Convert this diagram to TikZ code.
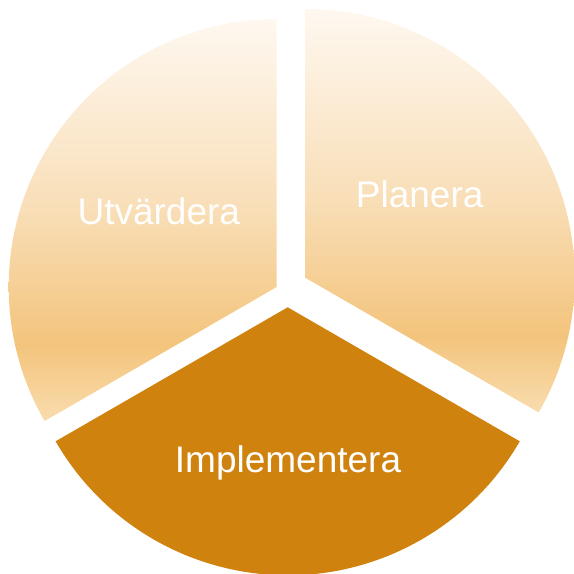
\documentclass[tikz,border=0pt]{standalone}
\usepackage{fontspec}
\setmainfont{Liberation Sans}
\definecolor{gT}{HTML}{FEF8F0}
\definecolor{gM}{HTML}{F9DFB9}
\definecolor{gD}{HTML}{F3C47C}
\definecolor{gB}{HTML}{F9DCAE}
\definecolor{darkseg}{HTML}{D0820F}
\pgfdeclareverticalshading{sectgrad}{100bp}{color(0bp)=(gB); color(25bp)=(gB); color(34.5bp)=(gD); color(52bp)=(gM); color(75bp)=(gT); color(100bp)=(gT)}
\tikzset{
  lbl/.style={inner sep=0pt, anchor=base, text=white, font=\fontsize{37}{44}\selectfont}
}
\begin{document}
\begin{tikzpicture}[x=1pt,y=1pt]
\useasboundingbox (0,0) rectangle (574,574);
% right sector (Planera)
\begin{scope}
\clip (305.7,296) -- ++(90:269) arc[start angle=90, end angle=-30, radius=269] -- cycle;
\shade[shading=sectgrad] (300,162) rectangle (580,565);
\end{scope}
% left sector (Utvardera)
\begin{scope}
\clip (276.7,287) -- ++(90:268) arc[start angle=90, end angle=210, radius=268] -- cycle;
\shade[shading=sectgrad] (0,153) rectangle (282,555);
\end{scope}
% bottom sector (Implementera)
\fill[darkseg] (287.7,266.7) -- ++(210:268) arc[start angle=210, end angle=330, radius=268] -- cycle;
\node[lbl] (plan) at (419.7,366.7) {Planera};
\node[lbl] (utv) at (158.8,349) {Utvärdera};
\node[lbl] (impl) at (288,101.7) {Implementera};
\end{tikzpicture}
\end{document}
